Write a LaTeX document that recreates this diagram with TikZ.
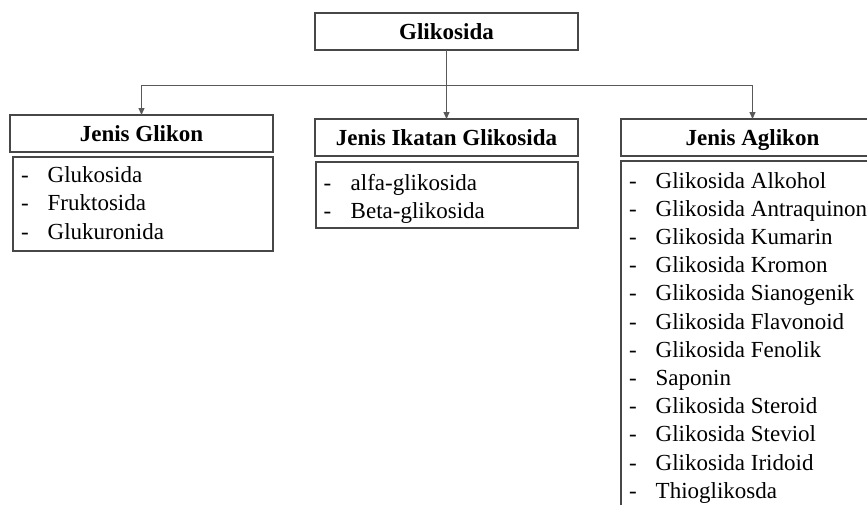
\documentclass[tikz,border=0pt]{standalone}
\usepackage{fontspec}
\setmainfont{Liberation Serif}
\usetikzlibrary{arrows.meta}
\begin{document}
\begin{tikzpicture}[x=1pt,y=-1pt,
  box/.style={draw=black!72,line width=1.2pt,rectangle,inner sep=0pt,outer sep=0pt},
  hdr/.style={box,minimum width=263pt,font=\fontsize{23}{28}\selectfont\bfseries,text height=17pt,text depth=1pt},
  itm/.style={anchor=base west,inner sep=0pt,font=\fontsize{23}{28}\selectfont},
  conn/.style={draw=black!65,line width=1pt},
  arr/.style={conn,-{Triangle[length=7pt,width=6pt]}}]
\clip (0,0) rectangle (867,504);
\fill[white] (0,0) rectangle (867,504);
% top
\node[hdr,minimum height=37pt] (top) at (446.5,31.5) {Glikosida};
% headers
\node[hdr,minimum height=37pt] (gh) at (141.5,133.5) {Jenis Glikon};
\node[hdr,minimum height=37pt] (ih) at (446.5,137.5) {Jenis Ikatan Glikosida};
\node[hdr,minimum height=37pt] (ah) at (752.5,137.5) {Jenis Aglikon};
% list boxes
\node[box,minimum width=260pt,minimum height=94pt] (gl) at (143,204) {};
\node[box,minimum width=262pt,minimum height=66pt] (il) at (447,195) {};
\node[box,minimum width=263pt,minimum height=370pt] (al) at (752.5,346) {};
% connectors
\coordinate (fork) at (446.5,85);
\coordinate (fl) at (141.5,85);
\coordinate (fr) at (752.5,85);
\draw[conn] (top.south) -- (fork);
\draw[conn] (fl) -- (fr);
\draw[arr] (fl) -- (gh.north);
\draw[arr] (fork) -- (ih.north);
\draw[arr] (fr) -- (ah.north);
% Glikon items
\foreach \t [count=\i] in {Glukosida,Fruktosida,Glukuronida}{
  \pgfmathsetmacro{\yy}{182.7+28.2*(\i-1)}
  \node[itm] (gd\i) at (21,\yy) {-};
  \node[itm] (gt\i) at (47.5,\yy) {\t};
}
% Ikatan items
\foreach \t [count=\i] in {alfa-glikosida,Beta-glikosida}{
  \pgfmathsetmacro{\yy}{190.7+28.2*(\i-1)}
  \node[itm] (id\i) at (323.5,\yy) {-};
  \node[itm] (it\i) at (350.5,\yy) {\t};
}
% Aglikon items
\foreach \t [count=\i] in {Glikosida Alkohol,Glikosida Antraquinon,Glikosida Kumarin,Glikosida Kromon,Glikosida Sianogenik,Glikosida Flavonoid,Glikosida Fenolik,Saponin,Glikosida Steroid,Glikosida Steviol,Glikosida Iridoid,Thioglikosda}{
  \pgfmathsetmacro{\yy}{188+28.2*(\i-1)}
  \node[itm] (ad\i) at (629,\yy) {-};
  \node[itm] (at\i) at (655.5,\yy) {\t};
}
\end{tikzpicture}
\end{document}
